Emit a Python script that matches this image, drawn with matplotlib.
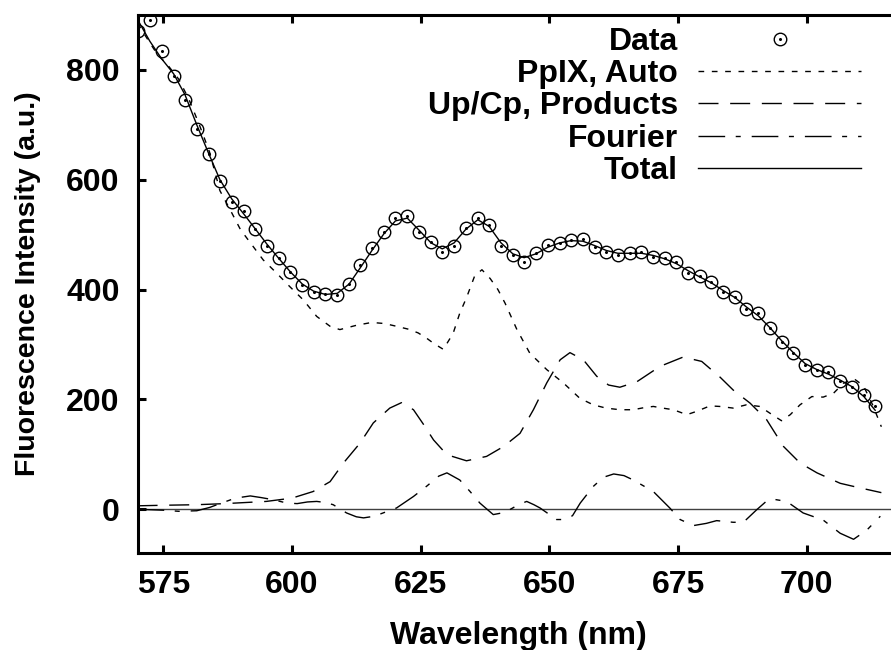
import matplotlib.pyplot as plt
from matplotlib.legend_handler import HandlerTuple

# -------------------------------------------------------
# Veriler
# -------------------------------------------------------
dalga_boyu = [570.1, 572.4, 574.7, 577.0, 579.2, 581.5, 583.8, 586.0, 588.3, 590.6,
              592.9, 595.1, 597.4, 599.7, 602.0, 604.2, 606.5, 608.8, 611.1, 613.3,
              615.6, 617.9, 620.1, 622.4, 624.7, 627.0, 629.2, 631.5, 633.8, 636.1,
              638.3, 640.6, 642.9, 645.1, 647.4, 649.7, 652.0, 654.2, 656.5, 658.8,
              661.1, 663.3, 665.6, 667.9, 670.2, 672.4, 674.7, 677.0, 679.2, 681.5,
              683.8, 686.1, 688.3, 690.6, 692.9, 695.1, 697.4, 699.7, 702.0, 704.2,
              706.5, 708.8, 711.1, 713.3]
olcum = [870, 891, 835, 789, 745, 693, 647, 597, 560, 543,
         510, 480, 457, 431, 408, 396, 391, 390, 410, 445,
         475, 504, 530, 534, 504, 487, 469, 480, 512, 530,
         518, 480, 463, 451, 466, 481, 485, 490, 492, 478,
         469, 463, 466, 468, 460, 457, 451, 430, 424, 413,
         396, 387, 364, 358, 330, 305, 284, 262, 254, 249,
         234, 222, 208, 187]
toplam = [890, 852, 820, 793, 755, 700, 648, 600, 565, 538,
          510, 483, 457, 432, 410, 397, 391, 393, 410, 440,
          472, 502, 525, 530, 508, 485, 474, 485, 510, 527,
          515, 485, 465, 458, 465, 477, 485, 489, 488, 480,
          471, 466, 466, 466, 462, 456, 447, 434, 423, 412,
          398, 385, 368, 352, 330, 307, 285, 265, 254, 246,
          235, 223, 205, 180]

ppix_x = [570.0, 572.0, 574.0, 575.6, 578.0, 580.0, 582.0, 584.0, 586.0, 588.0,
          590.0, 592.0, 594.4, 597.0, 599.6, 602.2, 604.8, 607.4, 609.3, 612.6,
          615.5, 618.0, 620.3, 622.5, 624.5, 626.2, 627.5, 629.4, 631.3, 632.6,
          633.9, 635.5, 636.9, 638.5, 640.0, 641.4, 643.7, 646.2, 649.5, 652.7,
          655.9, 658.5, 661.0, 663.7, 666.3, 668.5, 670.2, 672.0, 674.1, 676.7,
          678.6, 681.2, 683.1, 685.7, 688.3, 690.9, 692.8, 695.1, 696.8, 698.7,
          701.0, 703.2, 705.2, 707.1, 709.1, 711.0, 712.8, 714.5]
ppix_y = [885, 855, 826, 812, 783, 746, 700, 650, 580, 545,
          509, 484, 454, 430, 405, 381, 351, 333, 327, 335,
          340, 338, 333, 328, 321, 311, 302, 291, 320, 357,
          385, 425, 436, 420, 400, 375, 327, 284, 254, 230,
          202, 190, 184, 181, 181, 185, 187, 184, 181, 172,
          178, 188, 187, 184, 190, 187, 175, 161, 172, 190,
          205, 204, 211, 229, 238, 225, 190, 150]

upcp_x = [570.0, 575.0, 581.5, 587.0, 591.0, 595.0, 600.0, 604.1, 607.4, 610.0,
          613.2, 615.8, 619.0, 621.3, 623.6, 625.5, 627.5, 630.1, 633.9, 637.8,
          641.1, 644.3, 646.9, 649.5, 652.1, 654.0, 656.6, 659.2, 661.5, 663.7,
          667.0, 671.5, 676.0, 679.6, 683.2, 685.7, 689.0, 692.2, 695.5, 698.7,
          702.0, 706.5, 709.7, 714.5]
upcp_y = [6, 7, 8, 10, 12, 14, 20, 32, 50, 84,
          120, 157, 184, 194, 181, 155, 126, 99, 88, 96,
          114, 138, 181, 230, 272, 285, 272, 242, 226, 222,
          232, 260, 277, 269, 240, 217, 193, 163, 114, 84,
          66, 47, 40, 30]

fourier_x = [570.0, 572.0, 575.0, 578.0, 581.5, 584.0, 586.0, 589.0, 591.9, 594.0,
             596.4, 599.0, 601.0, 603.0, 604.8, 606.5, 608.0, 610.6, 612.5, 613.9,
             616.0, 617.7, 620.3, 623.6, 626.2, 628.5, 630.1, 632.6, 634.6, 636.5,
             639.1, 640.8, 642.3, 644.0, 645.6, 647.0, 648.2, 651.4, 653.0, 654.5,
             656.0, 658.5, 660.5, 662.5, 664.5, 666.3, 670.2, 673.4, 675.4, 678.0,
             680.5, 682.5, 685.7, 687.7, 690.3, 692.0, 693.5, 696.1, 699.3, 703.2,
             706.5, 709.1, 711.7, 714.3]
fourier_y = [0, -1, -2, -4, -3, 3, 10, 20, 24, 21,
             17, 11, 10, 13, 14, 12, 8, -7, -14, -16,
             -13, -7, 2, 23, 42, 60, 66, 53, 32, 11,
             -10, -7, -1, 8, 14, 8, 2, -19, -19, -12,
             11, 41, 58, 64, 61, 53, 32, 2, -19, -30,
             -26, -21, -24, -24, -1, 13, 18, 14, -7, -20,
             -44, -55, -38, -13]

x_tikler = [575, 600, 625, 650, 675, 700]
y_tikler = [0, 200, 400, 600, 800]

# -------------------------------------------------------
# Stil
# -------------------------------------------------------
plt.rcParams['font.family'] = ['Liberation Sans', 'DejaVu Sans']
plt.rcParams['font.weight'] = 'bold'
plt.rcParams['axes.labelweight'] = 'bold'
plt.rcParams['font.size'] = 23

fig = plt.figure(figsize=(8.91, 6.5), dpi=100)
ax = fig.add_axes([0.1544, 0.1492, 0.855, 0.8277])

# sifir cizgisi
ax.axhline(0, color='0.25', lw=1.0, zorder=1)

ax.plot(dalga_boyu, olcum, ls='none', marker='o', ms=9, mfc='none',
        mec='black', mew=1.0, zorder=4)
ax.plot(dalga_boyu, olcum, ls='none', marker='o', ms=1.2, color='black', zorder=4)
veri_h = (ax.lines[-2], ax.lines[-1])

ppix_h, = ax.plot(ppix_x, ppix_y, color='black', lw=1.0, ls=(0, (4.1, 5.5)))
upcp_h, = ax.plot(upcp_x, upcp_y, color='black', lw=1.0, ls=(0, (14.4, 8.4)))
fourier_h, = ax.plot(fourier_x, fourier_y, color='black', lw=1.0,
                     ls=(0, (19.2, 7.6, 3.6, 7.9)))
toplam_h, = ax.plot(dalga_boyu, toplam, color='black', lw=1.0)

ax.set_xlim(570, 718)
ax.set_ylim(-80, 900)
ax.set_xticks(x_tikler)
ax.set_yticks(y_tikler)

for s in ax.spines.values():
    s.set_linewidth(2.2)
ax.tick_params(direction='in', length=5.8, width=2.2, top=True, right=True)
ax.tick_params(axis='x', pad=12)
ax.tick_params(axis='y', pad=13)

ax.set_xlabel('Wavelength (nm)', labelpad=15)
ax.set_ylabel('Fluorescence Intensity (a.u.)', fontsize=20.5, labelpad=18)

# gnuplot tarzi lejant: yazi sagda hizali, ornek cizgi sagda
ax.legend([veri_h, ppix_h, upcp_h, fourier_h, toplam_h],
          ['Data', 'PpIX, Auto', 'Up/Cp, Products', 'Fourier', 'Total'],
          handler_map={tuple: HandlerTuple(ndivide=1)},
          markerfirst=False, frameon=False, numpoints=1,
          handlelength=5.1, handletextpad=0.63, labelspacing=0.07,
          borderpad=0, borderaxespad=0, loc='upper right',
          bbox_to_anchor=(861 / 891, 1 - 27 / 650), bbox_transform=fig.transFigure)

plt.savefig('out.png', dpi=100)
